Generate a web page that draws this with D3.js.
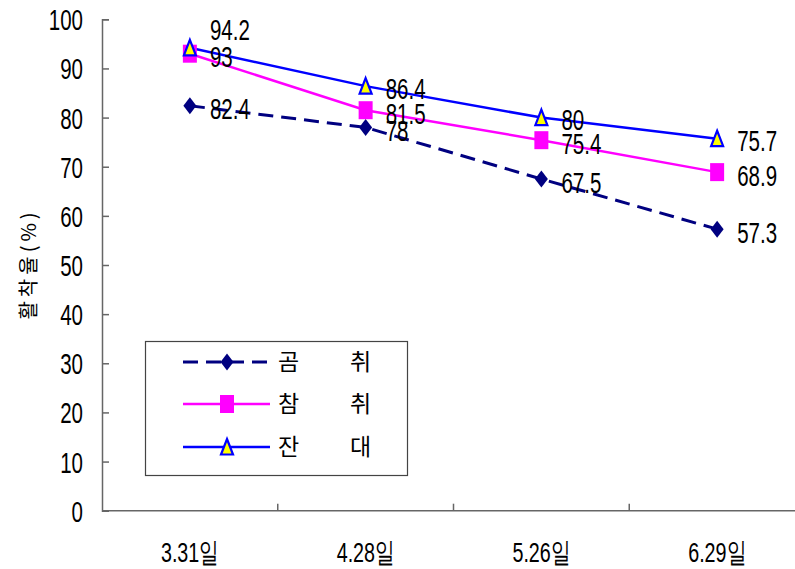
<!DOCTYPE html>
<html><head><meta charset="utf-8">
<script src="https://cdn.jsdelivr.net/npm/d3@7"></script>
<style>
html,body{margin:0;padding:0;background:#fff;}
svg{display:block;}
.num{font-family:"Liberation Sans",Arial,sans-serif;}
.kr{font-family:"Noto Sans CJK KR","Noto Sans CJK SC",sans-serif;}
</style></head>
<body>
<svg id="c" width="795" height="569"></svg>
<script>
const categories = ["3.31일", "4.28일", "5.26일", "6.29일"];
const seriesNames = ["곰취", "참취", "잔대"];
const gomchwi = [82.4, 78, 67.5, 57.3];
const chamchwi = [93, 81.5, 75.4, 68.9];
const jandae = [94.2, 86.4, 80, 75.7];
const yTicks = [0, 10, 20, 30, 40, 50, 60, 70, 80, 90, 100];
const yTitle = "활착율(%)";

const series = [
  {name: seriesNames[0], values: gomchwi, color: "#000080", dash: "15,8", marker: "diamond"},
  {name: seriesNames[1], values: chamchwi, color: "#FF00FF", dash: null, marker: "square"},
  {name: seriesNames[2], values: jandae, color: "#0000FF", dash: null, marker: "triangle"}
];
// label offsets (style only): default to the right of each point
const labelDy = [[3,3,3,3],[3,3,3,3],[-18,2,2,2]];
const SX = 0.76, SY = 1.08; // squeeze/stretch of numeric text

const svg = d3.select("#c");
const x = d3.scaleBand().domain(categories).range([102, 805]);
const y = d3.scaleLinear().domain([0, 100]).range([510.7, 19.3]);
const axisColor = "#666";

function narrowText(parent, px, py, str, size, anchor, cls) {
  const g = parent.append("g").attr("transform", `translate(${px},${py})`);
  return g.append("text").attr("class", cls || "num").attr("font-size", size)
    .attr("text-anchor", anchor || "start").attr("transform", `scale(${SX},${SY})`)
    .attr("dy", "0.36em").attr("fill", "#000").text(str);
}

// Y axis
const yAxis = d3.axisLeft(y).tickValues(yTicks).tickSize(-7).tickPadding(19).tickFormat(d3.format("d"));
const gy = svg.append("g").attr("transform", "translate(102,0)").call(yAxis);
gy.select(".domain").attr("stroke", axisColor).attr("stroke-width", 1.5);
gy.selectAll(".tick line").attr("stroke", axisColor).attr("stroke-width", 1.5);
gy.selectAll(".tick text").attr("class", "num").attr("font-size", 27).attr("fill", "#000")
  .attr("dy", "0.36em").attr("x", -19 / SX).attr("transform", `scale(${SX},${SY})`);

// X axis line
svg.append("line").attr("x1", 102).attr("x2", 795).attr("y1", y(0)).attr("y2", y(0))
  .attr("stroke", axisColor).attr("stroke-width", 1.5);
categories.slice(1).forEach(c => {
  svg.append("line").attr("x1", x(c)).attr("x2", x(c)).attr("y1", y(0)).attr("y2", y(0) - 7)
    .attr("stroke", axisColor).attr("stroke-width", 1.5);
});
categories.forEach(c => {
  const t = narrowText(svg, x(c) + x.bandwidth() / 2, 552, c, 26, "middle");
  t.attr("font-family", "'Liberation Sans','Noto Sans CJK KR',sans-serif");
});

// Y title
svg.append("text").attr("class", "kr").attr("font-size", 20)
  .attr("transform", "translate(36,264) rotate(-90)")
  .attr("text-anchor", "middle").attr("letter-spacing", 4).text(yTitle);

function markerPath(type) {
  if (type === "diamond") return "M0,-8.5L6.5,0L0,8.5L-6.5,0Z";
  if (type === "square") return "M-7,-9H7V9H-7Z";
  return "M0,-8L6,7.5H-6Z";
}
function drawMarker(g, type, color) {
  if (type === "triangle") {
    g.append("path").attr("d", markerPath(type)).attr("fill", "#FFFF00").attr("stroke", color).attr("stroke-width", 2.2);
  } else {
    g.append("path").attr("d", markerPath(type)).attr("fill", color);
  }
}

const cx = c => x(c) + x.bandwidth() / 2;
const line = d3.line().x((d, i) => cx(categories[i])).y(d => y(d));

series.forEach((s, si) => {
  svg.append("path").datum(s.values).attr("d", line).attr("fill", "none")
    .attr("stroke", s.color).attr("stroke-width", si === 0 ? 3 : 2.5)
    .attr("stroke-dasharray", s.dash);
});
series.forEach((s, si) => {
  s.values.forEach((v, i) => {
    const g = svg.append("g").attr("transform", `translate(${cx(categories[i])},${y(v)})`);
    drawMarker(g, s.marker, s.color);
  });
});
series.forEach((s, si) => {
  s.values.forEach((v, i) => {
    narrowText(svg, cx(categories[i]) + 20, y(v) + labelDy[si][i], String(v), 27, "start");
  });
});

// Legend
const lg = svg.append("g");
lg.append("rect").attr("x", 145.5).attr("y", 341.5).attr("width", 262).attr("height", 134)
  .attr("fill", "#fff").attr("stroke", "#444").attr("stroke-width", 1.2);
const rowY = [362, 404, 447];
series.forEach((s, si) => {
  const ry = rowY[si];
  lg.append("line").attr("x1", 183).attr("x2", 270).attr("y1", ry).attr("y2", ry)
    .attr("stroke", s.color).attr("stroke-width", si === 0 ? 3 : 2.5).attr("stroke-dasharray", s.dash);
  const g = lg.append("g").attr("transform", `translate(227,${ry})`);
  drawMarker(g, s.marker, s.color);
  const chars = Array.from(s.name);
  lg.append("text").attr("class", "kr").attr("font-size", 23).attr("x", 278).attr("y", ry).attr("dy", "0.36em").text(chars[0]);
  lg.append("text").attr("class", "kr").attr("font-size", 23).attr("x", 350).attr("y", ry).attr("dy", "0.36em").text(chars[1]);
});
</script>
</body></html>
